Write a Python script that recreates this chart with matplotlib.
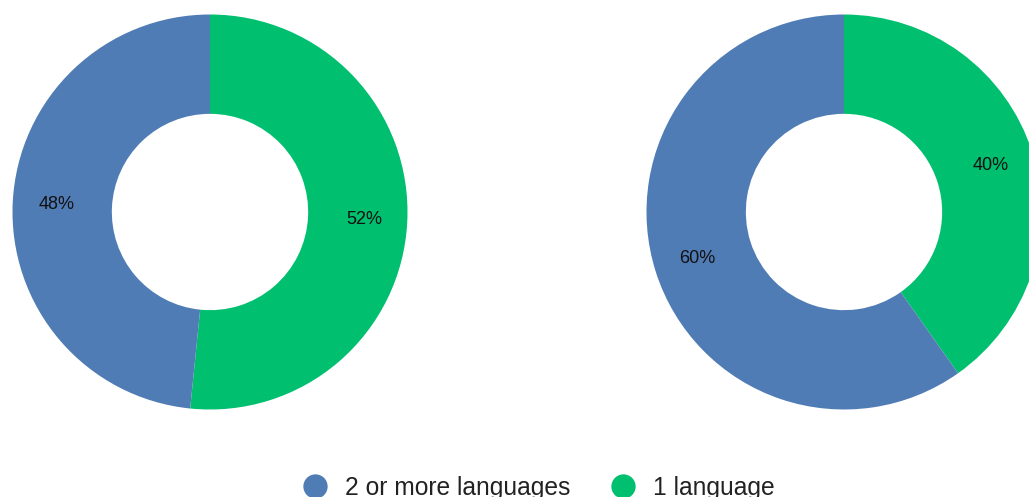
import matplotlib
matplotlib.use("Agg")
import matplotlib.pyplot as plt
from matplotlib.lines import Line2D

plt.rcParams['font.family'] = ['Liberation Sans', 'DejaVu Sans']

categories = ["1 language", "2 or more languages"]
left_values = [51.6, 48.4]
right_values = [40.2, 59.8]
colors = ["#00bf6f", "#507cb6"]
legend_order = ["2 or more languages", "1 language"]

W, H = 1029, 497
fig = plt.figure(figsize=(W / 100, H / 100), dpi=100)
ax = fig.add_axes([0, 0, 1, 1])

R = 197.5
for cx, vals in [(210, left_values), (844, right_values)]:
    ax.pie(vals, colors=colors, startangle=90, counterclock=False,
           radius=R, center=(cx, H - 212),
           wedgeprops=dict(width=R * 0.503, linewidth=0),
           autopct=lambda p: f"{p:.0f}%", pctdistance=0.78,
           textprops=dict(fontsize=13, color="#111111"), frame=True)

ax.set_xlim(0, W)
ax.set_ylim(0, H)
ax.set_aspect('auto')
ax.axis('off')

fs = 17.7
cmap = dict(zip(categories, colors))
handles = [Line2D([], [], marker='o', linestyle='', markersize=17.5,
                  markerfacecolor=cmap[c], markeredgewidth=0) for c in legend_order]
ax.legend(handles, legend_order, loc='center left', bbox_to_anchor=(302.75, 9.5),
          bbox_transform=ax.transData, ncol=2, frameon=False, fontsize=fs,
          handlelength=1.0, handletextpad=0.72, columnspacing=1.62,
          borderpad=0, borderaxespad=0, labelcolor="#222222")

fig.savefig("out.png", dpi=100)
